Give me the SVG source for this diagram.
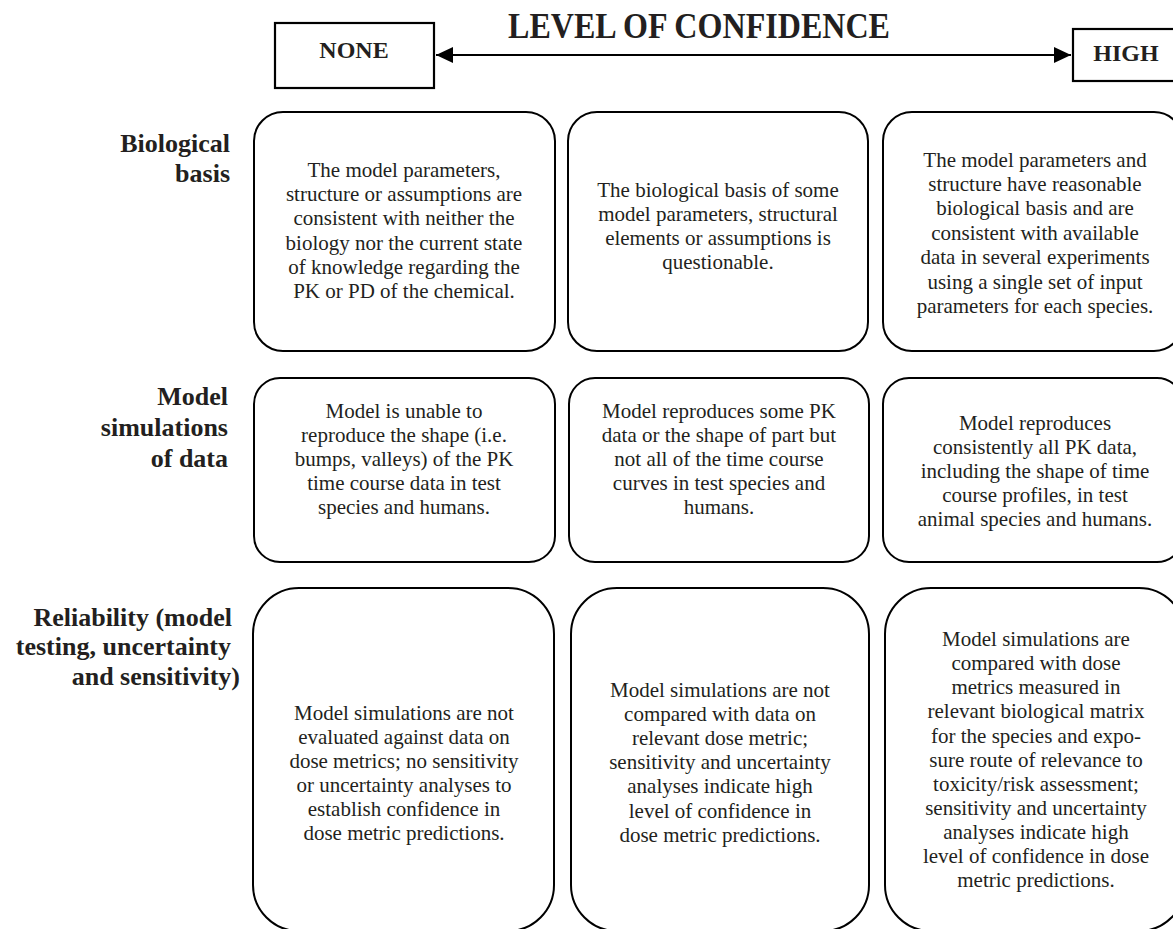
<svg xmlns="http://www.w3.org/2000/svg" width="1173" height="929" viewBox="0 0 1173 929">
<style>
.box{fill:#fff;stroke:#000;stroke-width:2}
.hbox{fill:#fff;stroke:#000;stroke-width:2.2}
.t{font-family:"Liberation Serif","Times New Roman",serif;font-size:21px;fill:#231f20;text-anchor:middle}
.lbl{font-family:"Liberation Serif","Times New Roman",serif;font-size:26px;font-weight:bold;fill:#231f20;text-anchor:end}
.hd{font-family:"Liberation Serif","Times New Roman",serif;font-size:24px;font-weight:bold;fill:#231f20;text-anchor:middle}
.title{font-family:"Liberation Serif","Times New Roman",serif;font-size:35px;font-weight:bold;fill:#231f20}
</style>
<defs>
<marker id="ah" markerUnits="userSpaceOnUse" markerWidth="18" markerHeight="18" refX="17" refY="8" orient="auto-start-reverse">
<path d="M0,0 L17,8 L0,16 Z" fill="#000"/>
</marker>
</defs>
<text class="title" x="508" y="38" textLength="382" lengthAdjust="spacingAndGlyphs">LEVEL OF CONFIDENCE</text>
<g id="none">
<rect class="hbox" x="275" y="23" width="159" height="65"/>
<text class="hd" x="354" y="58">NONE</text>
</g>
<g id="high">
<rect class="hbox" x="1073" y="29" width="112" height="52"/>
<text class="hd" x="1126" y="61">HIGH</text>
</g>
<g id="connectors">
<line x1="436" y1="55" x2="1071" y2="55" stroke="#000" stroke-width="2" marker-start="url(#ah)" marker-end="url(#ah)"/>
</g>
<g id="labels">
<text class="lbl" x="230" y="152">Biological</text>
<text class="lbl" x="230" y="182">basis</text>
<text class="lbl" x="228" y="405">Model</text>
<text class="lbl" x="228" y="436">simulations</text>
<text class="lbl" x="228" y="467">of data</text>
<text class="lbl" x="232" y="626">Reliability (model</text>
<text class="lbl" x="231" y="655">testing, uncertainty</text>
<text class="lbl" x="240" y="685">and sensitivity)</text>
</g>
<g id="r1c1">
<rect class="box" x="254" y="112" width="301" height="239" rx="29"/>
<text class="t" x="404"><tspan x="404" y="177">The model parameters,</tspan><tspan x="404" y="201">structure or assumptions are</tspan><tspan x="404" y="225">consistent with neither the</tspan><tspan x="404" y="250">biology nor the current state</tspan><tspan x="404" y="274">of knowledge regarding the</tspan><tspan x="404" y="298">PK or PD of the chemical.</tspan></text>
</g>
<g id="r1c2">
<rect class="box" x="568" y="112" width="300" height="239" rx="29"/>
<text class="t" x="718"><tspan x="718" y="197">The biological basis of some</tspan><tspan x="718" y="221">model parameters, structural</tspan><tspan x="718" y="245">elements or assumptions is</tspan><tspan x="718" y="269">questionable.</tspan></text>
</g>
<g id="r1c3">
<rect class="box" x="883" y="112" width="300" height="239" rx="29"/>
<text class="t" x="1035"><tspan x="1035" y="167">The model parameters and</tspan><tspan x="1035" y="191">structure have reasonable</tspan><tspan x="1035" y="215">biological basis and are</tspan><tspan x="1035" y="240">consistent with available</tspan><tspan x="1035" y="264">data in several experiments</tspan><tspan x="1035" y="289">using a single set of input</tspan><tspan x="1035" y="313">parameters for each species.</tspan></text>
</g>
<g id="r2c1">
<rect class="box" x="254" y="378" width="301" height="184" rx="26"/>
<text class="t" x="404"><tspan x="404" y="418">Model is unable to</tspan><tspan x="404" y="442">reproduce the shape (i.e.</tspan><tspan x="404" y="466">bumps, valleys) of the PK</tspan><tspan x="404" y="490">time course data in test</tspan><tspan x="404" y="514">species and humans.</tspan></text>
</g>
<g id="r2c2">
<rect class="box" x="569" y="378" width="300" height="184" rx="26"/>
<text class="t" x="719"><tspan x="719" y="418">Model reproduces some PK</tspan><tspan x="719" y="442">data or the shape of part but</tspan><tspan x="719" y="466">not all of the time course</tspan><tspan x="719" y="490">curves in test species and</tspan><tspan x="719" y="514">humans.</tspan></text>
</g>
<g id="r2c3">
<rect class="box" x="883" y="378" width="300" height="184" rx="26"/>
<text class="t" x="1035"><tspan x="1035" y="430">Model reproduces</tspan><tspan x="1035" y="454">consistently all PK data,</tspan><tspan x="1035" y="478">including the shape of time</tspan><tspan x="1035" y="502">course profiles, in test</tspan><tspan x="1035" y="526">animal species and humans.</tspan></text>
</g>
<g id="r3c1">
<rect class="box" x="253" y="588" width="301" height="343" rx="46"/>
<text class="t" x="404"><tspan x="404" y="720">Model simulations are not</tspan><tspan x="404" y="744">evaluated against data on</tspan><tspan x="404" y="768">dose metrics; no sensitivity</tspan><tspan x="404" y="792">or uncertainty analyses to</tspan><tspan x="404" y="816">establish confidence in</tspan><tspan x="404" y="840">dose metric predictions.</tspan></text>
</g>
<g id="r3c2">
<rect class="box" x="571" y="588" width="298" height="343" rx="46"/>
<text class="t" x="720"><tspan x="720" y="697">Model simulations are not</tspan><tspan x="720" y="721">compared with data on</tspan><tspan x="720" y="745">relevant dose metric;</tspan><tspan x="720" y="769">sensitivity and uncertainty</tspan><tspan x="720" y="793">analyses indicate high</tspan><tspan x="720" y="818">level of confidence in</tspan><tspan x="720" y="842">dose metric predictions.</tspan></text>
</g>
<g id="r3c3">
<rect class="box" x="885" y="588" width="300" height="343" rx="46"/>
<text class="t" x="1036"><tspan x="1036" y="646">Model simulations are</tspan><tspan x="1036" y="670">compared with dose</tspan><tspan x="1036" y="694">metrics measured in</tspan><tspan x="1036" y="718">relevant biological matrix</tspan><tspan x="1036" y="743">for the species and expo-</tspan><tspan x="1036" y="767">sure route of relevance to</tspan><tspan x="1036" y="791">toxicity/risk assessment;</tspan><tspan x="1036" y="815">sensitivity and uncertainty</tspan><tspan x="1036" y="839">analyses indicate high</tspan><tspan x="1036" y="863">level of confidence in dose</tspan><tspan x="1036" y="887">metric predictions.</tspan></text>
</g>
</svg>
